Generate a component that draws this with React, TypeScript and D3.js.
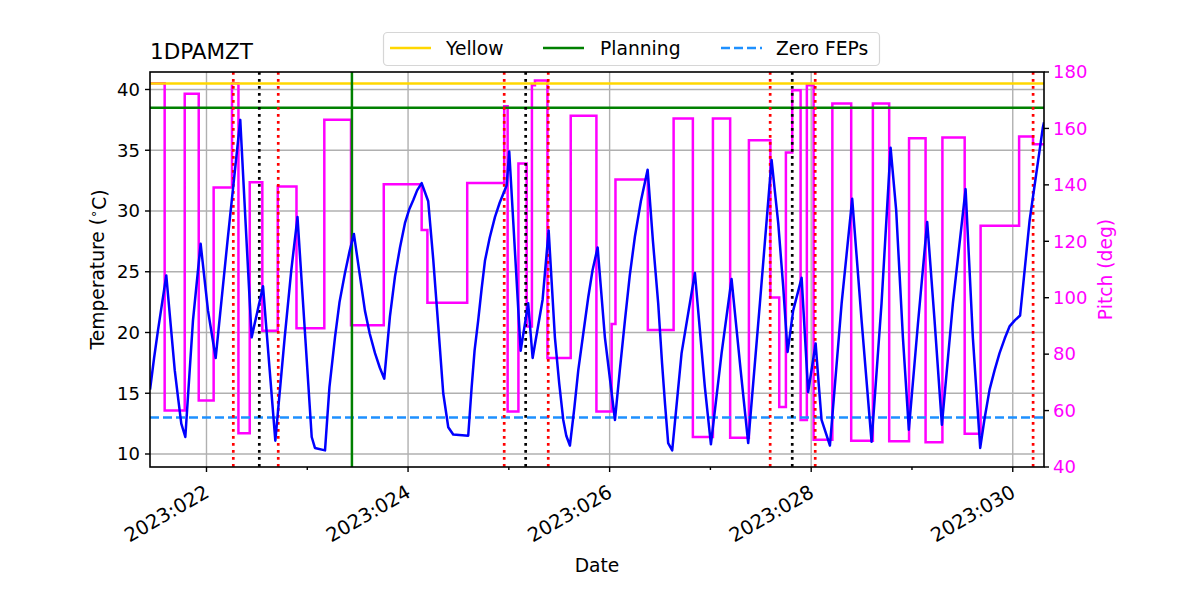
import React from 'react';
import * as d3 from 'd3';

// ---- Data ----
const tempTimes = [
  21.44, 21.48, 21.519, 21.601, 21.685, 21.72, 21.75, 21.79, 21.866, 21.942,
  22.015, 22.091, 22.213, 22.335, 22.395, 22.448, 22.561, 22.627, 22.683, 22.776,
  22.841, 22.903, 22.977, 23.044, 23.076, 23.176, 23.22, 23.275, 23.32, 23.374,
  23.42, 23.463, 23.52, 23.572, 23.62, 23.672, 23.72, 23.764, 23.82, 23.87,
  23.92, 23.969, 24.01, 24.052, 24.09, 24.135, 24.2, 24.25, 24.3, 24.349,
  24.399, 24.448, 24.597, 24.631, 24.66, 24.696, 24.73, 24.763, 24.81, 24.862,
  24.91, 24.954, 24.978, 25.004, 25.117, 25.192, 25.236, 25.335, 25.395, 25.457,
  25.5, 25.54, 25.57, 25.606, 25.65, 25.689, 25.74, 25.788, 25.83, 25.881,
  25.953, 26.053, 26.1, 26.152, 26.2, 26.251, 26.31, 26.377, 26.43, 26.482,
  26.52, 26.549, 26.581, 26.621, 26.714, 26.846, 26.945, 27.005, 27.111, 27.21,
  27.3, 27.375, 27.491, 27.607, 27.673, 27.722, 27.766, 27.821, 27.905, 27.97,
  28.044, 28.077, 28.103, 28.186, 28.302, 28.407, 28.5, 28.599, 28.698, 28.788,
  28.843, 28.91, 28.969, 29.059, 29.151, 29.224, 29.297, 29.406, 29.532, 29.604,
  29.677, 29.72, 29.77, 29.82, 29.869, 29.92, 29.968, 30.02, 30.073, 30.167,
  30.299, 30.31,
];
const tempValues = [
  15.3, 17.9, 20.2, 24.7, 16.9, 14.5, 12.5, 11.4, 21.0, 27.3,
  21.8, 17.9, 27.9, 37.5, 27.9, 19.6, 23.8, 16.9, 11.1, 19.6,
  25.1, 29.5, 20.0, 11.4, 10.5, 10.3, 15.5, 19.6, 22.5, 24.9,
  26.7, 28.1, 24.8, 21.8, 19.9, 18.3, 17.1, 16.2, 21.3, 24.6,
  27.0, 29.0, 30.1, 30.9, 31.7, 32.3, 30.8, 26.0, 20.5, 15.0,
  12.2, 11.6, 11.5, 15.5, 18.5, 21.0, 23.6, 25.9, 27.8, 29.5,
  30.7, 31.6, 32.1, 34.9, 18.5, 22.4, 17.9, 22.7, 28.4, 19.6,
  15.8, 12.8, 11.5, 10.7, 13.8, 16.9, 20.0, 22.9, 25.1, 27.0,
  19.6, 12.8, 16.8, 21.0, 24.7, 27.9, 30.8, 33.4, 27.5, 22.4,
  17.5, 14.2, 10.9, 10.3, 18.3, 24.9, 15.5, 10.8, 18.3, 24.4,
  16.9, 10.9, 22.4, 34.2, 29.0, 23.8, 18.4, 21.8, 24.5, 15.1,
  19.1, 15.5, 12.8, 10.7, 22.4, 31.0, 21.0, 11.0, 22.4, 35.2,
  30.1, 19.6, 12.0, 20.7, 29.1, 21.0, 12.4, 22.4, 31.8, 19.6,
  10.5, 12.9, 15.3, 16.9, 18.3, 19.5, 20.5, 21.0, 21.4, 29.2,
  36.9, 37.3,
];

const pitchTimes = [
  21.4395, 21.585, 21.784, 21.923, 22.071, 22.253, 22.317, 22.429, 22.554, 22.707,
  22.893, 23.169, 23.434, 23.759, 24.135, 24.192, 24.587, 24.954, 24.988, 25.095,
  25.177, 25.229, 25.259, 25.383, 25.614, 25.869, 26.02, 26.058, 26.379, 26.635,
  26.826, 27.025, 27.196, 27.382, 27.595, 27.683, 27.749, 27.812, 27.895, 27.957,
  28.024, 28.21, 28.397, 28.612, 28.774, 28.971, 29.135, 29.302, 29.523, 29.681,
  30.063, 30.201,
];
const pitchValues = [
  176, 60, 172.3, 63.6, 139.1, 176, 52, 140.9, 88.3, 139.4,
  89.2, 163.1, 90.2, 140.2, 124, 98.2, 140.7, 167.9, 59.7, 147.6,
  89.8, 175.3, 177, 78.6, 164.5, 59.7, 90.7, 141.9, 88.6, 163.5,
  50.6, 163.5, 50.4, 155.8, 100.1, 61.3, 151.5, 173.5, 56.7, 175.3,
  49.7, 168.8, 49.3, 168.8, 49.1, 156.5, 48.8, 156.8, 51.8, 125.5,
  157.1, 154.4,
];

const yellowLimit = 40.5;
const planningLimit = 38.5;
const zeroFepsLimit = 13.0;

const redEventTimes = [22.266, 22.712, 24.954, 25.391, 27.593, 28.04, 30.202];
const blackEventTimes = [22.524, 25.167, 27.812];
const greenEventTimes = [23.443];

const xMajorTicks = [22, 24, 26, 28, 30];
const xMinorTicks = [23, 25, 27, 29];
const tempTicks = [10, 15, 20, 25, 30, 35, 40];
const pitchTicks = [40, 60, 80, 100, 120, 140, 160, 180];

const xDomain: [number, number] = [21.4395, 30.31];
const tempDomain: [number, number] = [8.93, 41.44];
const pitchDomain: [number, number] = [40, 180];

const titleText = '1DPAMZT';
const legendLabels = ['Yellow', 'Planning', 'Zero FEPs'];

// ---- Layout ----
const W = 1200;
const H = 600;
const L = 150;
const R = 1044;
const T = 72;
const B = 467;
const FONT = '"DejaVu Sans", sans-serif';
const TICK_FS = 18;
const XTICK_FS = 19.5;
const LABEL_FS = 18.7;
const LW = 2.5;

const fmtDay = (d: number) => `2023:${String(d).padStart(3, '0')}`;

export default function App() {
  const x = d3.scaleLinear().domain(xDomain).range([L, R]);
  const yT = d3.scaleLinear().domain(tempDomain).range([B, T]);
  const yP = d3.scaleLinear().domain(pitchDomain).range([B, T]);

  const tempPath = d3
    .line<number>()
    .x((_, i) => x(tempTimes[i]))
    .y((v) => yT(v))(tempValues) as string;

  const pX = [...pitchTimes, xDomain[1]];
  const pY = [...pitchValues, pitchValues[pitchValues.length - 1]];
  const pitchPath = d3
    .line<number>()
    .curve(d3.curveStepAfter)
    .x((_, i) => x(pX[i]))
    .y((v) => yP(v))(pY) as string;

  const legendItems = [
    { label: legendLabels[0], color: '#FFD700', dashed: false, hx: 390, tx: 446 },
    { label: legendLabels[1], color: '#008000', dashed: false, hx: 543, tx: 600 },
    { label: legendLabels[2], color: '#1E90FF', dashed: true, hx: 721, tx: 776 },
  ];

  return (
    <svg
      width={W}
      height={H}
      viewBox={`0 0 ${W} ${H}`}
      style={{ position: 'absolute', left: 0, top: 0, background: '#fff' }}
      fontFamily={FONT}
    >
      <defs>
        <clipPath id="plot">
          <rect x={L} y={T} width={R - L} height={B - T} />
        </clipPath>
      </defs>
      <rect x={0} y={0} width={W} height={H} fill="#fff" />

      {/* grid */}
      <g stroke="#b0b0b0" strokeWidth={1.4}>
        {tempTicks.map((t) => (
          <line key={'gy' + t} x1={L} x2={R} y1={yT(t)} y2={yT(t)} />
        ))}
        {xMajorTicks.map((d) => (
          <line key={'gx' + d} x1={x(d)} x2={x(d)} y1={T} y2={B} />
        ))}
      </g>

      <g clipPath="url(#plot)">
        {/* pitch */}
        <path d={pitchPath} fill="none" stroke="#FF00FF" strokeWidth={LW} />
        {/* limit lines */}
        <line x1={L} x2={R} y1={yT(yellowLimit)} y2={yT(yellowLimit)} stroke="#FFD700" strokeWidth={LW} />
        <line x1={L} x2={R} y1={yT(planningLimit)} y2={yT(planningLimit)} stroke="#008000" strokeWidth={LW} />
        <line
          x1={L}
          x2={R}
          y1={yT(zeroFepsLimit)}
          y2={yT(zeroFepsLimit)}
          stroke="#1E90FF"
          strokeWidth={LW}
          strokeDasharray="9 4"
        />
        {/* events */}
        {redEventTimes.map((d) => (
          <line key={'r' + d} x1={x(d)} x2={x(d)} y1={T} y2={B} stroke="#FF0000" strokeWidth={2.7} strokeDasharray="2.7 4.3" />
        ))}
        {blackEventTimes.map((d) => (
          <line key={'k' + d} x1={x(d)} x2={x(d)} y1={T} y2={B} stroke="#000" strokeWidth={2.7} strokeDasharray="2.7 4.3" />
        ))}
        {greenEventTimes.map((d) => (
          <line key={'g' + d} x1={x(d)} x2={x(d)} y1={T} y2={B} stroke="#008000" strokeWidth={LW} />
        ))}
        {/* temperature */}
        <path d={tempPath} fill="none" stroke="#0000FF" strokeWidth={LW} strokeLinejoin="round" />
      </g>

      {/* spines */}
      <rect x={L} y={T} width={R - L} height={B - T} fill="none" stroke="#000" strokeWidth={1.6} />

      {/* ticks */}
      <g stroke="#000" strokeWidth={1.4}>
        {xMajorTicks.map((d) => (
          <line key={'xt' + d} x1={x(d)} x2={x(d)} y1={B} y2={B + 5} />
        ))}
        {xMinorTicks.map((d) => (
          <line key={'xm' + d} x1={x(d)} x2={x(d)} y1={B} y2={B + 3} />
        ))}
        {tempTicks.map((t) => (
          <line key={'yt' + t} x1={L - 5} x2={L} y1={yT(t)} y2={yT(t)} />
        ))}
        {pitchTicks.map((p) => (
          <line key={'pt' + p} x1={R} x2={R + 5} y1={yP(p)} y2={yP(p)} />
        ))}
      </g>
      <g fill="#000">
        {xMajorTicks.map((d) => (
          <text key={'xl' + d} fontSize={XTICK_FS} transform={`translate(${x(d) + 4},496) rotate(-30)`} textAnchor="end">
            {fmtDay(d)}
          </text>
        ))}
        {tempTicks.map((t) => (
          <text key={'yl' + t} fontSize={TICK_FS} x={L - 10} y={yT(t)} dy="0.35em" textAnchor="end">
            {t}
          </text>
        ))}
      </g>
      <g fontSize={TICK_FS} fill="#FF00FF">
        {pitchTicks.map((p) => (
          <text key={'pl' + p} x={R + 9} y={yP(p)} dy="0.35em" textAnchor="start">
            {p}
          </text>
        ))}
      </g>

      {/* axis labels */}
      <text x={(L + R) / 2} y={565} fontSize={LABEL_FS} textAnchor="middle" dy="0.35em">
        Date
      </text>
      <text transform={`translate(97,${(T + B) / 2}) rotate(-90)`} fontSize={LABEL_FS} textAnchor="middle" dy="0.35em">
        Temperature (
        <tspan dy="-0.45em" fontSize={LABEL_FS * 0.7}>∘</tspan>
        <tspan dy="0.45em">C)</tspan>
      </text>
      <text transform={`translate(1105,${(T + B) / 2}) rotate(-90)`} fontSize={LABEL_FS} textAnchor="middle" dy="0.35em" fill="#FF00FF">
        Pitch (deg)
      </text>

      {/* title */}
      <text x={L} y={59} fontSize={21.5} textAnchor="start">
        {titleText}
      </text>

      {/* legend */}
      <rect x={383.5} y={32.5} width={496} height={33} rx={4} fill="#fff" fillOpacity={0.8} stroke="#d6d6d6" strokeWidth={1.2} />
      {legendItems.map((it) => (
        <g key={it.label}>
          <line x1={it.hx} x2={it.hx + 41} y1={48} y2={48} stroke={it.color} strokeWidth={LW} strokeDasharray={it.dashed ? '9 4' : undefined} />
          <text x={it.tx} y={48} dy="0.35em" fontSize={LABEL_FS}>
            {it.label}
          </text>
        </g>
      ))}
    </svg>
  );
}
